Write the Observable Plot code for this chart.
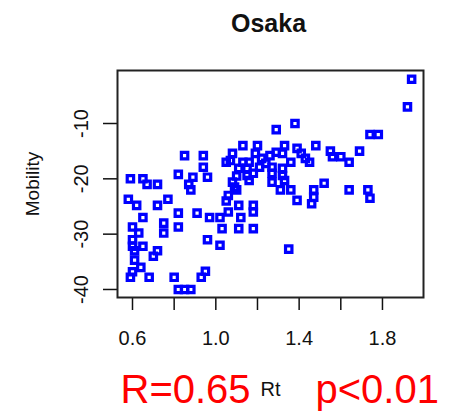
<!DOCTYPE html>
<html>
<head>
<meta charset="utf-8">
<script src="https://cdn.jsdelivr.net/npm/d3@7"></script>
<script src="https://cdn.jsdelivr.net/npm/@observablehq/plot@0.6"></script>
<style>
  html, body { margin: 0; padding: 0; background: white; }
  #chart { width: 452px; height: 411px; }
</style>
</head>
<body>
<div id="chart"></div>
<script>
const title = "Osaka";
const xLabel = "Rt";
const yLabel = "Mobility";
const statR = "R=0.65";
const statP = "p<0.01";

const xTickValues = [0.6, 0.8, 1.0, 1.2, 1.4, 1.6, 1.8];
const xTickLabels = ["0.6", "", "1.0", "", "1.4", "", "1.8"];
const yTickValues = [-40, -30, -20, -10];
const yTickLabels = ["-40", "-30", "-20", "-10"];

const rt = [
  1.94, 1.92, 1.74, 1.78, 1.48, 1.55, 1.56, 1.60, 1.64, 1.69,
  1.52, 1.47, 1.47, 1.46, 1.64, 1.73, 1.74, 1.35, 1.38, 1.29,
  1.39, 1.41, 1.43, 1.45, 1.33, 1.20, 1.13,
  1.08, 1.07, 1.05, 1.13, 1.16, 1.19, 1.11, 1.15, 1.15,
  1.26, 1.29, 1.32, 1.27, 1.32, 1.27, 1.32, 1.33, 1.27,
  1.18, 1.21, 1.24, 1.16, 1.08, 1.10, 1.06, 1.05, 1.31, 1.36,
  1.39, 1.10, 1.22, 1.36,
  0.94, 0.85, 0.94, 0.82, 0.89, 0.96, 0.87, 0.88, 0.59, 0.65,
  0.67, 0.72, 0.58, 0.62, 0.72, 0.77, 0.82, 0.91, 0.65, 0.97,
  1.02, 1.03, 0.60, 0.63, 0.75, 0.75, 0.82, 0.60, 0.60, 0.65,
  0.61, 0.72, 0.70, 0.61, 0.64, 0.60, 0.59, 0.68, 0.80, 0.95,
  0.93, 0.82, 0.85, 0.88, 0.96, 1.02, 1.06, 1.11, 1.12, 1.11,
  1.18, 1.18, 1.18, 1.09
];
const mobility = [
  -2, -7, -12, -12, -14, -15, -16, -16, -17, -15,
  -20.8, -22, -23.3, -24.5, -22, -22, -23.5, -32.7, -10, -11.1,
  -14.5, -15.4, -16.3, -17, -14, -14, -14,
  -15.4, -16.7, -17, -17, -17, -15.4, -18.1, -18.1, -19.4,
  -15.8, -15.2, -15.4, -17.9, -18.1, -19, -19.4, -20.3, -20.6,
  -19, -17.9, -17.2, -20.3, -20.6, -22, -23, -24, -22, -22,
  -23.9, -19.5, -16.3, -17,
  -15.8, -15.8, -17.9, -19.2, -19.7, -19.7, -21, -22, -20, -20,
  -21, -21, -23.7, -24.8, -24.8, -23.7, -26.2, -26.2, -27, -27,
  -27, -29, -28.7, -29.8, -28, -29.8, -28.7, -31, -32.2, -32.2,
  -33, -33, -34, -34.7, -36, -36.8, -37.8, -37.8, -37.8, -36.7,
  -37.8, -40, -40, -40, -31, -32, -26, -24.8, -27, -29,
  -24.8, -26, -29, -21.5
];

const points = rt.map((x, i) => ({x, y: mobility[i]}));
const xLab = (d) => { const i = xTickValues.findIndex(v => Math.abs(v - d) < 1e-9); return i >= 0 ? xTickLabels[i] : ""; };
const yTicks = yTickValues.map((v, i) => ({v, label: yTickLabels[i]}));

const font = "'Liberation Sans', Arial, sans-serif";

const chart = Plot.plot({
  width: 452,
  height: 411,
  marginLeft: 117,
  marginRight: 29,
  marginTop: 70,
  marginBottom: 114,
  style: {fontFamily: font, background: "white", color: "black"},
  x: {domain: [0.528, 1.997], axis: null},
  y: {domain: [-41.45, -0.42], axis: null},
  marks: [
    Plot.axisX(xTickValues, {label: null, tickSize: 13, tickPadding: 20, fontSize: 20, tickFormat: xLab, stroke: "#111", strokeWidth: 1.5, fill: "#111"}),
    Plot.axisY(yTickValues, {label: null, tickSize: 14, tickFormat: () => "", stroke: "#111", strokeWidth: 1.5}),
    Plot.text(yTicks, {y: "v", text: "label", frameAnchor: "left", dx: -30, rotate: -90, textAnchor: "middle", lineAnchor: "bottom", fontSize: 20, fill: "#111"}),
    Plot.dot(points, {x: "x", y: "y", symbol: "square", r: 3.6, stroke: "#0000ff", strokeWidth: 3.2, fill: "none"}),
    Plot.frame({stroke: "#222", strokeWidth: 2}),
    Plot.text([title], {frameAnchor: "top", dx: -2, dy: -39, lineAnchor: "bottom", fontSize: 25, fontWeight: "bold", fill: "#111"}),
    Plot.text([yLabel], {frameAnchor: "left", dx: -79, rotate: -90, textAnchor: "middle", lineAnchor: "bottom", fontSize: 19, fill: "#111"}),
    Plot.text([xLabel], {frameAnchor: "bottom", dy: 98, lineAnchor: "bottom", fontSize: 20, fill: "#111"}),
    Plot.text([statR], {frameAnchor: "bottom", dx: -150, dy: 105, textAnchor: "start", lineAnchor: "bottom", fontSize: 40, fill: "#ff0000"}),
    Plot.text([statP], {frameAnchor: "bottom", dx: 45, dy: 105, textAnchor: "start", lineAnchor: "bottom", fontSize: 40, fill: "#ff0000"})
  ]
});
document.getElementById("chart").appendChild(chart);
</script>
</body>
</html>
